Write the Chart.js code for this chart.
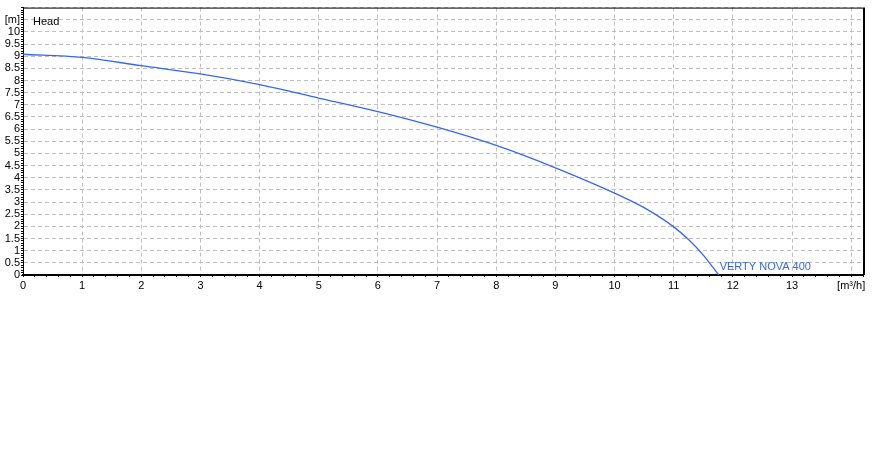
<!DOCTYPE html>
<html>
<head>
<meta charset="utf-8">
<script src="https://cdn.jsdelivr.net/npm/chart.js@4"></script>
<style>
  body { margin: 0; background: #fff; }
  #wrap { width: 878px; height: 460px; }
</style>
</head>
<body>
<div id="wrap"><canvas id="pump-chart" width="878" height="460"></canvas></div>
<script>
// Pump curve: flow [m³/h] vs head [m]
const flow = [0, 1, 2, 3, 4, 5, 6, 7, 8, 9, 10, 10.5, 11, 11.25, 11.5, 11.76];
const head = [9.08, 8.95, 8.61, 8.27, 7.83, 7.28, 6.72, 6.08, 5.33, 4.41, 3.37, 2.77, 1.98, 1.46, 0.82, 0];
const seriesName = 'VERTY NOVA 400';
const yUnit = '[m]';
const xUnit = '[m³/h]';
const chartTitle = 'Head';

const lineColor = '#3366ff';
const gridColor = '#c0c0c0';
const font = { family: 'Liberation Sans, Arial, sans-serif', size: 11 };

const near = (v, step) => Math.abs(v / step - Math.round(v / step)) < 1e-6;

// Frame, title and curve label
const extras = {
    id: 'extras',
    afterDraw(chart) {
        const { ctx, chartArea: a } = chart;
        ctx.save();
        ctx.strokeStyle = '#000';
        ctx.lineWidth = 1;
        ctx.beginPath();
        ctx.moveTo(a.left, a.top + 0.5);
        ctx.lineTo(a.right, a.top + 0.5);
        ctx.stroke();
        ctx.lineWidth = 2;
        ctx.beginPath();
        ctx.moveTo(a.right + 1, a.top);
        ctx.lineTo(a.right + 1, a.bottom);
        ctx.stroke();

        ctx.font = `${font.size}px ${font.family}`;
        ctx.textBaseline = 'middle';
        ctx.fillStyle = '#000';
        ctx.fillText(chartTitle, 33, 22);

        const xs = chart.scales.x;
        const ys = chart.scales.y;
        const last = flow.length - 1;
        ctx.fillStyle = lineColor;
        ctx.fillText(seriesName, xs.getPixelForValue(flow[last]) + 1, ys.getPixelForValue(head[last]) - 8);
        ctx.restore();
    }
};

new Chart(document.getElementById('pump-chart'), {
    type: 'scatter',
    data: {
        datasets: [{
            label: seriesName,
            data: flow.map((x, i) => ({ x, y: head[i] })),
            showLine: true,
            borderColor: lineColor,
            borderWidth: 1.3,
            pointRadius: 0,
            cubicInterpolationMode: 'monotone'
        }]
    },
    options: {
        responsive: false,
        animation: false,
        layout: { padding: { top: 6, right: 15, bottom: 165, left: 0 } },
        plugins: { legend: { display: false }, tooltip: { enabled: false } },
        scales: {
            x: {
                type: 'linear',
                min: 0,
                max: 14.2,
                afterFit: s => { s.height = 20; },
                border: { color: '#000', width: 2, dash: [4, 3] },
                grid: {
                    color: c => near(c.tick.value, 1) && c.tick.value > 0 ? gridColor : 'rgba(0,0,0,0)',
                    tickColor: '#000',
                    tickLength: 2,
                    tickBorderDash: []
                },
                ticks: {
                    stepSize: 0.2,
                    autoSkip: false,
                    maxRotation: 0,
                    padding: 2,
                    color: '#000',
                    font,
                    callback: v => near(v, 1) ? (Math.round(v) === 14 ? xUnit : String(Math.round(v))) : ''
                }
            },
            y: {
                min: 0,
                max: 11,
                afterFit: s => { s.width = 23; },
                border: { color: '#000', width: 1, dash: [4, 3] },
                grid: {
                    color: c => near(c.tick.value, 0.5) && c.tick.value > 0 ? gridColor : 'rgba(0,0,0,0)',
                    tickColor: '#000',
                    tickLength: 2,
                    tickBorderDash: []
                },
                ticks: {
                    stepSize: 0.1,
                    autoSkip: false,
                    padding: 1,
                    color: '#000',
                    font,
                    callback: v => {
                        if (!near(v, 0.5) || v > 10.6) return '';
                        if (Math.abs(v - 10.5) < 1e-6) return yUnit;
                        return String(Math.round(v * 2) / 2);
                    }
                }
            }
        }
    },
    plugins: [extras]
});
</script>
</body>
</html>
